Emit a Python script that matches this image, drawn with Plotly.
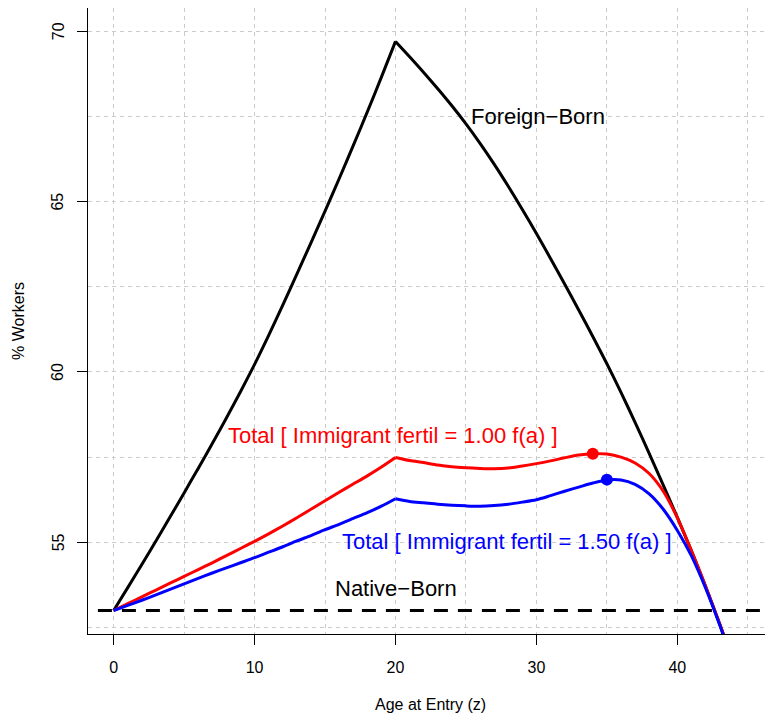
import plotly.graph_objects as go

# ---- data ----
age = list(range(0, 45))

foreign_born = [53.0, 53.67, 54.35, 55.04, 55.74, 56.45, 57.17, 57.9, 58.65, 59.42,
                60.22, 61.07, 61.96, 62.87, 63.79, 64.72, 65.67, 66.64, 67.63, 68.65,
                69.7, 69.25, 68.79, 68.31, 67.81, 67.28, 66.71, 66.1, 65.45, 64.77,
                64.06, 63.33, 62.58, 61.82, 61.04, 60.24, 59.4, 58.52, 57.61, 56.68,
                55.73, 54.75, 53.71, 52.61, 51.44]

total_fertil_100 = [53.0, 53.2, 53.4, 53.6, 53.8, 54.0, 54.2, 54.4, 54.61, 54.82,
                    55.03, 55.25, 55.48, 55.72, 55.97, 56.22, 56.47, 56.71, 56.95, 57.21,
                    57.49, 57.4, 57.34, 57.27, 57.22, 57.19, 57.17, 57.16, 57.18, 57.24,
                    57.31, 57.39, 57.48, 57.56, 57.6, 57.59, 57.5, 57.33, 57.02, 56.5,
                    55.72, 54.75, 53.71, 52.61, 51.44]

total_fertil_150 = [53.0, 53.15, 53.3, 53.46, 53.62, 53.78, 53.94, 54.1, 54.25, 54.4,
                    54.55, 54.71, 54.87, 55.04, 55.2, 55.37, 55.53, 55.7, 55.87, 56.06,
                    56.28, 56.2, 56.16, 56.12, 56.09, 56.07, 56.06, 56.08, 56.12, 56.18,
                    56.25, 56.37, 56.5, 56.62, 56.74, 56.83, 56.83, 56.7, 56.42, 55.97,
                    55.35, 54.6, 53.66, 52.58, 51.4]

native_born = 53.0

peak_age_100, peak_val_100 = 34.0, 57.6
peak_age_150, peak_val_150 = 35.0, 56.84

x_ticks = [0, 10, 20, 30, 40]
y_ticks = [55, 60, 65, 70]
x_range = [-1.82, 46.22]
y_range = [52.31, 70.68]
kink_age = 20  # the curves have a corner at this age

FONT = "Liberation Sans, Arial, Helvetica, sans-serif"
RED = "#FF0000"
BLUE = "#0000FF"

fig = go.Figure()

# native-born horizontal dashed line
fig.add_trace(go.Scatter(x=[x_range[0] - 1, x_range[1] + 1], y=[native_born, native_born],
                         mode="lines", line=dict(color="black", width=3, dash="14px,10px"),
                         hoverinfo="skip", showlegend=False))

k = age.index(kink_age)
for series, color in [(foreign_born, "black"), (total_fertil_100, RED),
                      (total_fertil_150, BLUE)]:
    for sl in (slice(0, k + 1), slice(k, None)):
        fig.add_trace(go.Scatter(x=age[sl], y=series[sl], mode="lines",
                                 line=dict(color=color, width=3, shape="spline",
                                           smoothing=0.8),
                                 showlegend=False))

fig.add_trace(go.Scatter(x=[peak_age_100], y=[peak_val_100], mode="markers",
                         marker=dict(color=RED, size=12), showlegend=False))
fig.add_trace(go.Scatter(x=[peak_age_150], y=[peak_val_150], mode="markers",
                         marker=dict(color=BLUE, size=12), showlegend=False))

ann_font = dict(family=FONT, size=22)
annotations = [
    dict(x=25.2, y=67.5, text="Foreign−Born", xanchor="left", yanchor="middle",
         font=dict(ann_font, color="black")),
    dict(x=19.84, y=58.13, text="Total [ Immigrant fertil = 1.00 f(a) ]",
         xanchor="center", yanchor="middle", font=dict(ann_font, color=RED)),
    dict(x=27.9, y=55.02, text="Total [ Immigrant fertil = 1.50 f(a) ]",
         xanchor="center", yanchor="middle", font=dict(ann_font, color=BLUE)),
    dict(x=20.0, y=53.65, text="Native−Born", xanchor="center", yanchor="middle",
         font=dict(ann_font, color="black")),
    dict(xref="paper", yref="paper", x=0.506, y=-0.113, text="Age at Entry (z)",
         xanchor="center", yanchor="middle", font=dict(family=FONT, size=16, color="black")),
    dict(xref="paper", yref="paper", x=-0.103, y=0.5005, text="% Workers", textangle=-90,
         xanchor="center", yanchor="middle", font=dict(family=FONT, size=16, color="black")),
]
# y tick labels, rotated as in the reference
for v in y_ticks:
    annotations.append(dict(xref="paper", yref="y", x=-0.0443, y=v, text=str(v),
                            textangle=-90, xanchor="center", yanchor="middle",
                            font=dict(family=FONT, size=16, color="black")))
for a in annotations:
    a.setdefault("xref", "x")
    a.setdefault("yref", "y")
    a["showarrow"] = False
fig.update_layout(annotations=annotations)

grid = dict(gridcolor="#CCCCCC", gridwidth=1, griddash="4px,4px")

fig.update_xaxes(range=x_range, tickvals=x_ticks, ticks="outside", ticklen=10,
                 tickcolor="black", tickwidth=1, showline=True, linecolor="black",
                 linewidth=1, mirror=False, zeroline=False, showgrid=True, **grid,
                 minor=dict(dtick=5, tick0=0, showgrid=True, **grid),
                 ticklabelstandoff=9,
                 tickfont=dict(family=FONT, size=16, color="black"))
fig.update_yaxes(range=y_range, tickvals=y_ticks, ticks="outside", ticklen=10,
                 tickcolor="black", tickwidth=1, showline=True, linecolor="black",
                 linewidth=1, mirror=False, zeroline=False, showgrid=True, **grid,
                 minor=dict(dtick=2.5, tick0=0, showgrid=True, **grid),
                 showticklabels=False)

fig.update_layout(width=765, height=715,
                  margin=dict(l=88, r=0, t=8, b=81),
                  plot_bgcolor="white", paper_bgcolor="white",
                  showlegend=False)

fig.write_html("out.html", config={"displayModeBar": False},
               post_script="document.body.style.margin='0px';")
